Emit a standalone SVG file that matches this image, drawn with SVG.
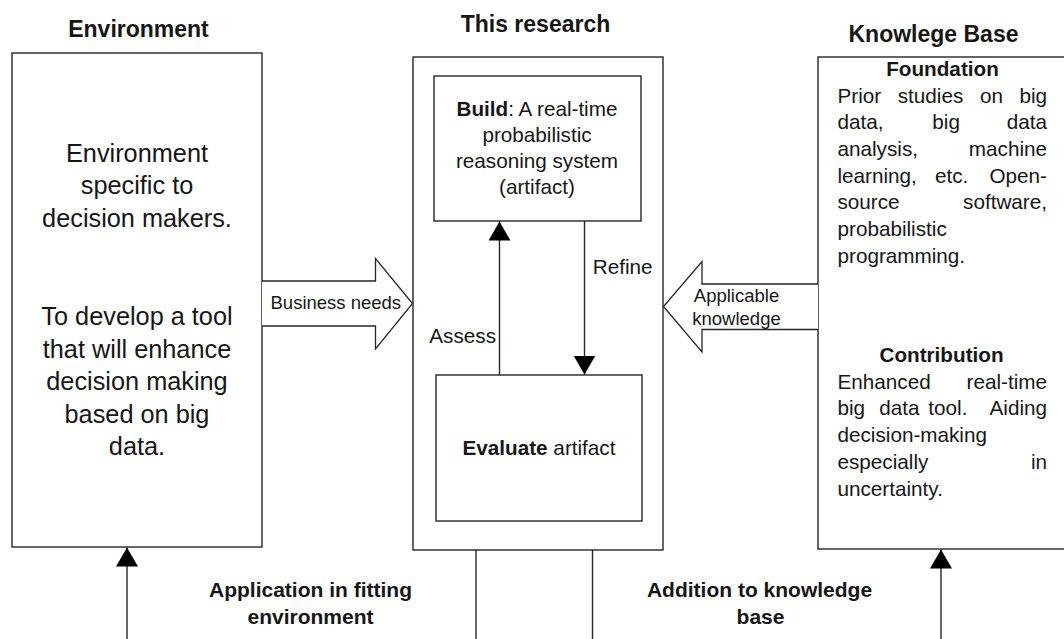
<svg xmlns="http://www.w3.org/2000/svg" width="1064" height="639" viewBox="0 0 1064 639">
  <style>
    text { font-family: "Liberation Sans", Arial, sans-serif; fill: #161616; }
    .title { font-size: 23px; font-weight: bold; text-anchor: middle; }
    .env { font-size: 25.3px; text-anchor: middle; }
    .body { font-size: 20.7px; }
    .mid { text-anchor: middle; }
    .end { text-anchor: end; }
    .b { font-weight: bold; }
    .small { font-size: 18.5px; }
    .cap { font-size: 21px; font-weight: bold; text-anchor: middle; }
    .box { fill: #fff; stroke: #262626; stroke-width: 1.4; }
    .line { fill: none; stroke: #262626; stroke-width: 1.4; }
    .block { fill: #fff; stroke: #262626; stroke-width: 1.3; stroke-linejoin: miter; }
  </style>
  <defs>
    <marker id="head" markerUnits="userSpaceOnUse" markerWidth="20" markerHeight="23" refX="19" refY="11" orient="auto">
      <path d="M0,0 L19,11 L0,22 z" fill="#000"/>
    </marker>
  </defs>

  <rect width="1064" height="639" fill="#fff"/>

  <!-- column titles -->
  <text class="title" x="138.5" y="37">Environment</text>
  <text class="title" x="535.5" y="32">This research</text>
  <text class="title" x="933.5" y="41.5">Knowlege Base</text>

  <!-- environment -->
  <g id="environment">
    <rect class="box" x="12" y="53" width="250" height="494"/>
    <text class="env" x="137" y="161.5">Environment</text>
    <text class="env" x="137" y="194">specific to</text>
    <text class="env" x="137" y="226.5">decision makers.</text>
    <text class="env" x="137" y="325">To develop a tool</text>
    <text class="env" x="137" y="357.5">that will enhance</text>
    <text class="env" x="137" y="390">decision making</text>
    <text class="env" x="137" y="422.5">based on big</text>
    <text class="env" x="137" y="455">data.</text>
  </g>

  <!-- research frame -->
  <g id="research">
    <rect class="box" x="413" y="57" width="250" height="493"/>
  </g>

  <g id="build">
    <rect class="box" x="434" y="76" width="207" height="145"/>
    <text class="body mid" x="537" y="115.5"><tspan class="b">Build</tspan>: A real-time</text>
    <text class="body mid" x="537" y="141.7">probabilistic</text>
    <text class="body mid" x="537" y="168">reasoning system</text>
    <text class="body mid" x="537" y="194">(artifact)</text>
  </g>

  <g id="evaluate">
    <rect class="box" x="436" y="375" width="206" height="146"/>
    <text class="body mid" x="539" y="455"><tspan class="b">Evaluate</tspan> artifact</text>
  </g>

  <!-- knowledge base -->
  <g id="knowledge-base">
    <rect class="box" x="818" y="57" width="260" height="492"/>
    <text class="body b mid" x="942.5" y="75.7">Foundation</text>
    <text class="body" y="102.5"><tspan x="837.5">Prior</tspan><tspan x="897.7">studies</tspan><tspan x="980">on</tspan><tspan x="1047" class="end">big</tspan></text>
    <text class="body" y="129.2"><tspan x="837.5">data,</tspan><tspan x="932.3">big</tspan><tspan x="1047" class="end">data</tspan></text>
    <text class="body" y="155.9"><tspan x="837.5">analysis,</tspan><tspan x="1047" class="end">machine</tspan></text>
    <text class="body" y="182.6"><tspan x="837.5">learning,</tspan><tspan x="935">etc.</tspan><tspan x="1047" class="end">Open-</tspan></text>
    <text class="body" y="209.3"><tspan x="837.5">source</tspan><tspan x="1047" class="end">software,</tspan></text>
    <text class="body" x="837.5" y="236">probabilistic</text>
    <text class="body" x="837.5" y="262.7">programming.</text>

    <text class="body b mid" x="941.5" y="361.7">Contribution</text>
    <text class="body" y="388.5"><tspan x="837.5">Enhanced</tspan><tspan x="1047" class="end">real-time</tspan></text>
    <text class="body" y="415.4"><tspan x="837.5">big</tspan><tspan x="879.3">data</tspan><tspan x="928.3">tool.</tspan><tspan x="1047" class="end">Aiding</tspan></text>
    <text class="body" x="837.5" y="442.3">decision-making</text>
    <text class="body" y="469.2"><tspan x="837.5">especially</tspan><tspan x="1047" class="end">in</tspan></text>
    <text class="body" x="837.5" y="496.1">uncertainty.</text>
  </g>

  <!-- connectors -->
  <g id="connectors">
    <!-- block arrows between columns -->
    <path class="block" d="M262,281 H375.5 V258.5 L412.5,303.5 L375.5,349 V326 H262"/>
    <path class="block" d="M818,284 H702 V261.5 L663.5,306.5 L702,352 V329.5 H818"/>

    <!-- build / evaluate cycle -->
    <path class="line" d="M499.5,375 V221.5" marker-end="url(#head)"/>
    <path class="line" d="M584.5,221 V374.5" marker-end="url(#head)"/>

    <!-- bottom links -->
    <path class="line" d="M127,639 V547.5" marker-end="url(#head)"/>
    <path class="line" d="M476,550 V639"/>
    <path class="line" d="M592.5,550 V639"/>
    <path class="line" d="M941,639 V549.5" marker-end="url(#head)"/>
  </g>

  <!-- connector labels -->
  <g id="labels">
    <text class="small" x="270.5" y="309.3">Business needs</text>
    <text class="small mid" x="736.5" y="301.7">Applicable</text>
    <text class="small mid" x="736.5" y="324.5">knowledge</text>
    <text class="body" x="592.7" y="274.3">Refine</text>
    <text class="body" x="429.3" y="342.7">Assess</text>
    <text class="cap" x="310.5" y="596.5">Application in fitting</text>
    <text class="cap" x="310.5" y="624">environment</text>
    <text class="cap" x="759.5" y="596.5">Addition to knowledge</text>
    <text class="cap" x="760.5" y="624">base</text>
  </g>
</svg>
